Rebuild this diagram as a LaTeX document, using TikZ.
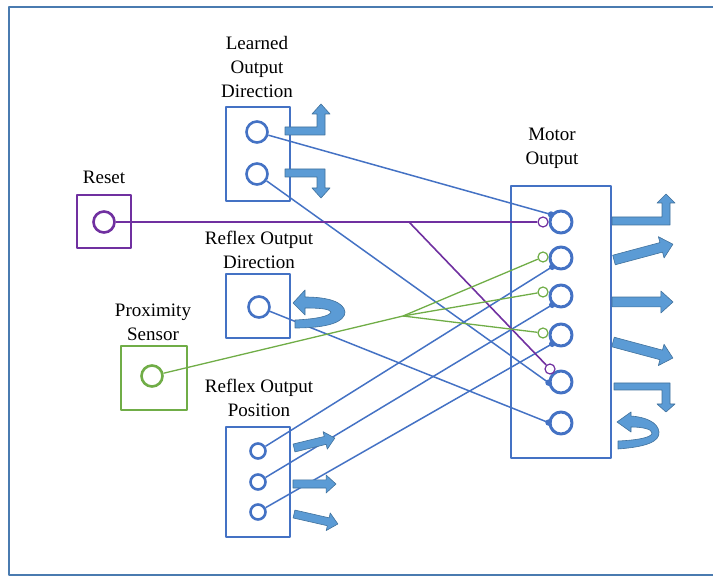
\documentclass[tikz,border=0pt]{standalone}
\usepackage{fontspec}
\setmainfont{Liberation Serif}
\usetikzlibrary{calc}
\definecolor{mdblue}{HTML}{4472C4}
\definecolor{mdfill}{HTML}{5B9BD5}
\definecolor{mdedge}{HTML}{41719C}
\definecolor{mdgreen}{HTML}{70AD47}
\definecolor{mdpurple}{HTML}{7030A0}
\definecolor{mdframe}{HTML}{4A7BB0}

% straight block arrow: start, angle, length, head half width
\newcommand\flatarrow[4]{%
  \begin{scope}[shift={#1}, rotate=#2]
    \filldraw[blk] (0,-.45*#4) -- (#3-1.1*#4,-.45*#4) -- (#3-1.1*#4,-#4) -- (#3,0)
      -- (#3-1.1*#4,#4) -- (#3-1.1*#4,.45*#4) -- (0,.45*#4) -- cycle;
  \end{scope}}

\begin{document}
\begin{tikzpicture}[x=0.5pt, y=-0.5pt, font=\fontsize{9.5}{12}\selectfont, line join=round,
    box/.style={draw=#1, line width=1pt, inner sep=0pt},
    sock/.style={circle, draw=#1, line width=1.3pt, minimum size=10.5pt, inner sep=0pt, fill=white},
    tap/.style={circle, draw=#1, line width=.6pt, minimum size=5pt, inner sep=0pt, fill=white},
    wire/.style={mdblue, line width=.75pt},
    gwire/.style={mdgreen, line width=.65pt},
    rwire/.style={mdpurple, line width=.8pt},
    blk/.style={fill=mdfill, draw=mdedge, line width=.3pt},
    lbl/.style={align=center}]
  \useasboundingbox (0,0) rectangle (713,577);
  \draw[mdframe, line width=.6pt] (9,7) rectangle (760,575);

  % boxes
  \node[box=mdblue, minimum width=32pt, minimum height=47pt] (learned) at (258,154) {};
  \node[box=mdpurple, minimum width=27pt, minimum height=26.5pt] (reset) at (104,222) {};
  \node[box=mdblue, minimum width=32pt, minimum height=32pt] (refdir) at (258,306) {};
  \node[box=mdgreen, minimum width=33pt, minimum height=32pt] (prox) at (154,378) {};
  \node[box=mdblue, minimum width=32pt, minimum height=54.5pt] (refpos) at (258,482) {};
  \node[box=mdblue, minimum width=50pt, minimum height=136pt] (motor) at (561,322) {};

  % labels
  \node[lbl] (lbllearned) at (257,67) {Learned\\Output\\Direction};
  \node[lbl] (lblreset) at (104,177) {Reset};
  \node[lbl] (lblrefdir) at (259,250) {Reflex Output\\Direction};
  \node[lbl] (lblprox) at (153,322) {Proximity\\Sensor};
  \node[lbl] (lblrefpos) at (259,398) {Reflex Output\\Position};
  \node[lbl] (lblmotor) at (552,148) {Motor\\Output};

  % sockets
  \node[sock=mdblue] (ld1) at (257,132) {};
  \node[sock=mdblue] (ld2) at (257,174) {};
  \node[sock=mdpurple] (rst) at (104,222) {};
  \node[sock=mdblue] (rd) at (259,307) {};
  \node[sock=mdgreen] (px) at (152,376) {};
  \foreach \y [count=\i] in {451,482,512}
    \node[sock=mdblue, minimum size=7.5pt] (rp\i) at (258,\y) {};
  \foreach \y [count=\i] in {222,258,296,335,382,423}
    \node[sock=mdblue, minimum size=11pt, line width=1.5pt] (m\i) at (561,\y) {};
  \node[tap=mdpurple] (rt1) at (543,222) {};
  \node[tap=mdpurple] (rt2) at (550,369) {};
  \foreach \y [count=\i] in {257,292,333}
    \node[tap=mdgreen] (gt\i) at (543,\y) {};

  % wires
  \draw[wire] (ld1) -- (m1.143);
  \draw[wire] (ld2) -- (m5.183);
  \draw[wire] (rd) -- (m6.178);
  \draw[wire] (rp1) -- (m2.225);
  \draw[wire] (rp2) -- (m3.225);
  \draw[wire] (rp3) -- (m4.225);
  \foreach \a/\n in {143/1, 225/2, 225/3, 225/4, 183/5, 178/6}
    \fill[mdblue] (m\n.\a) circle (1.6pt);
  \coordinate (rj) at (409,222);
  \draw[rwire] (rst) -- (rt1);
  \draw[rwire] (rj) -- (rt2);
  \coordinate (gj) at (403,316);
  \draw[gwire] (px) -- (gj);
  \foreach \i in {1,2,3}
    \draw[gwire] (gj) -- (gt\i);

  % output arrows
  \filldraw[blk] (285,127) -- (317,127) -- (317,114) -- (312,114) -- (321,104) -- (330,114)
    -- (325,114) -- (325,135) -- (285,135) -- cycle;
  \filldraw[blk] (285,169) -- (325,169) -- (325,188) -- (330,188) -- (321,198) -- (312,188)
    -- (317,188) -- (317,177) -- (285,177) -- cycle;
  \filldraw[blk] (295,328) .. controls (328,328) and (345,322) .. (345,312)
    .. controls (344,302) and (328,297) .. (305,297) -- (305,290) -- (293,303) -- (305,315)
    -- (305,308) .. controls (320,308) and (330,309) .. (331,312)
    .. controls (330,316) and (317,319) .. (295,320) -- cycle;
  \flatarrow{(294,448)}{13.7}{42}{9}
  \flatarrow{(293,484)}{0}{43}{9}
  \flatarrow{(294,514)}{-12.8}{45}{9}

  \filldraw[blk] (612,217) -- (662,217) -- (662,203) -- (657,203) -- (666,194) -- (675,203)
    -- (670,203) -- (670,225) -- (612,225) -- cycle;
  \flatarrow{(614,260)}{15}{61}{11}
  \flatarrow{(612,302)}{0}{61}{11}
  \flatarrow{(613,342)}{-15}{62}{11}
  \filldraw[blk] (614,383) -- (670,383) -- (670,404) -- (675,404) -- (666,412) -- (657,404)
    -- (662,404) -- (662,390) -- (614,390) -- cycle;
  \filldraw[blk] (618,449) .. controls (645,447) and (660,442) .. (659,432)
    .. controls (658,422) and (645,417) .. (631,416) -- (631,412) -- (617,422) -- (631,432)
    -- (631,427) .. controls (642,427) and (652,429) .. (652,433)
    .. controls (652,437) and (640,440) .. (618,441) -- cycle;
\end{tikzpicture}
\end{document}
